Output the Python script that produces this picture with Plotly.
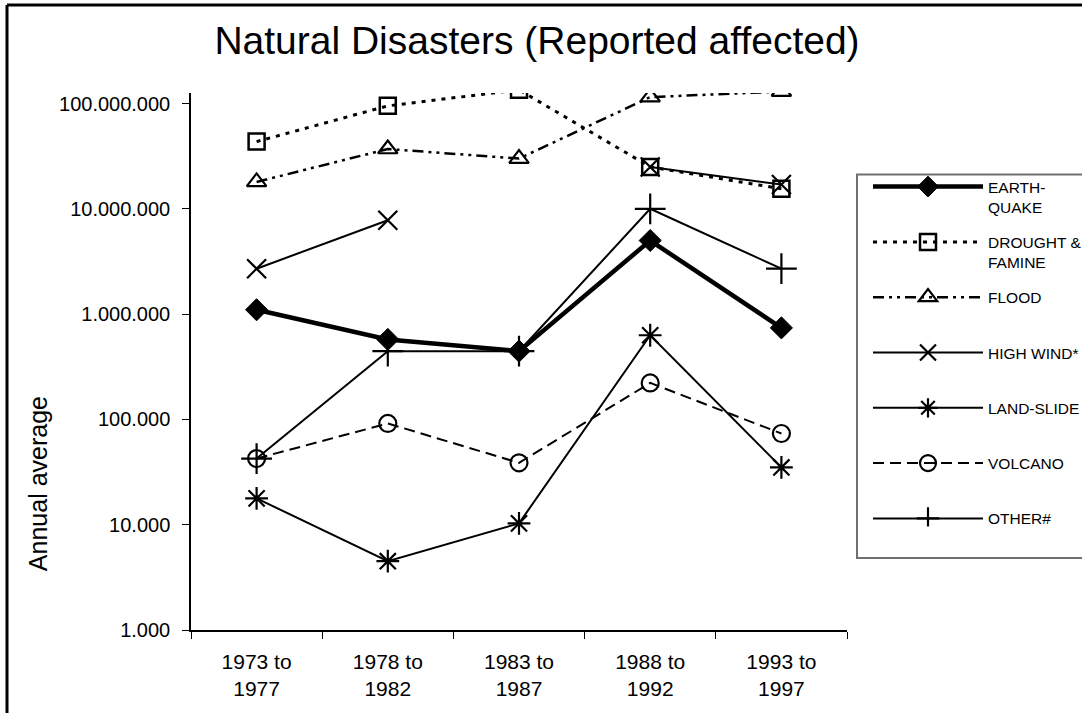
import plotly.graph_objects as go

# Five-year periods on the category axis
periods = ["1973 to<br>1977", "1978 to<br>1982", "1983 to<br>1987",
           "1988 to<br>1992", "1993 to<br>1997"]

# Annual average of people reported affected, per disaster type
earthquake = [1_100_000, 575_000, 445_000, 5_000_000, 740_000]
drought_famine = [43_500_000, 95_000_000, 135_000_000, 25_000_000, 15_500_000]
flood = [18_000_000, 37_000_000, 30_000_000, 115_000_000, 130_000_000]
high_wind = [2_700_000, 7_800_000, None, 25_000_000, 17_000_000]
land_slide = [17_800, 4_500, 10_300, 630_000, 35_000]
volcano = [42_500, 91_500, 38_700, 222_000, 73_500]
other = [42_500, 445_000, 445_000, 10_000_000, 2_700_000]

y_tick_values = [1e3, 1e4, 1e5, 1e6, 1e7, 1e8]
y_tick_labels = ["1.000", "10.000", "100.000", "1.000.000", "10.000.000", "100.000.000"]

FONT = "Liberation Sans, Arial, sans-serif"
W, H = 1082, 713
L, R, T, B = 191, 235, 92.5, 83          # plot area margins (px)
PW, PH = W - L - R, H - T - B


def px_x(x):
    """Page pixel column -> paper x."""
    return (x - L) / PW


def px_y(y):
    """Page pixel row -> paper y."""
    return (H - B - y) / PH


series = [
    dict(name="EARTH-<br>QUAKE", y=earthquake, line=dict(width=4.5, dash="solid"),
         marker=dict(symbol="diamond", size=17, color="black",
                     line=dict(width=1, color="black"))),
    dict(name="DROUGHT &<br>FAMINE", y=drought_famine, line=dict(width=3, dash="4px,6px"),
         marker=dict(symbol="square-open", size=16, color="black",
                     line=dict(width=2.5, color="black"))),
    dict(name="FLOOD<br> ", y=flood, line=dict(width=2.5, dash="11px,5px,3px,5px,3px,5px"),
         marker=dict(symbol="triangle-up-open", size=17, color="black",
                     line=dict(width=2.2, color="black"))),
    dict(name="HIGH WIND*<br> ", y=high_wind, line=dict(width=2, dash="solid"),
         marker=dict(symbol="x-thin-open", size=19, color="black",
                     line=dict(width=2.2, color="black"))),
    dict(name="LAND-SLIDE<br> ", y=land_slide, line=dict(width=2, dash="solid"),
         marker=dict(symbol="asterisk-open", size=19, color="black",
                     line=dict(width=2.2, color="black"))),
    dict(name="VOLCANO<br> ", y=volcano, line=dict(width=2, dash="11px,6px"),
         marker=dict(symbol="circle-open", size=17, color="black",
                     line=dict(width=2.2, color="black"))),
    dict(name="OTHER#<br> ", y=other, line=dict(width=2, dash="solid"),
         marker=dict(symbol="cross-thin-open", size=22, color="black",
                     line=dict(width=2.2, color="black"))),
]

fig = go.Figure()
for i, s in enumerate(series):
    fig.add_trace(go.Scatter(
        x=periods, y=s["y"], name=s["name"], mode="lines+markers",
        line=dict(color="black", **s["line"]), marker=s["marker"],
        connectgaps=False, legendgroup=f"g{i}",
    ))

shapes = []
# horizontal gridlines at each decade (log10 positions on the log axis)
for d in [4, 5, 6, 7]:
    shapes.append(dict(type="line", xref="x", yref="y", x0=-0.5, x1=4.5, y0=d, y1=d,
                       line=dict(color="black", width=1.2), layer="below"))
# vertical gridlines at category boundaries, stopping at the top of the value range
for b in [0.5, 1.5, 2.5, 3.5]:
    shapes.append(dict(type="line", xref="x", yref="y", x0=b, x1=b, y0=3, y1=8,
                       line=dict(color="#808080", width=1.2), layer="below"))
# top and right frame of the plot area
shapes.append(dict(type="line", xref="x", yref="y", x0=-0.5, x1=4.5, y0=8, y1=8,
                   line=dict(color="#8c8c8c", width=2.5), layer="below"))
shapes.append(dict(type="line", xref="x", yref="y", x0=4.5, x1=4.5, y0=3, y1=8,
                   line=dict(color="#8c8c8c", width=2.5), layer="below"))
# legend frame
shapes.append(dict(type="rect", xref="paper", yref="paper",
                   x0=px_x(857), x1=px_x(1120), y0=px_y(558), y1=px_y(174),
                   line=dict(color="#707070", width=2), fillcolor="white", layer="below"))
# outer chart border (top and left)
shapes.append(dict(type="line", xref="paper", yref="paper", x0=px_x(7), x1=px_x(1100),
                   y0=px_y(4.5), y1=px_y(4.5), line=dict(color="black", width=3)))
shapes.append(dict(type="line", xref="paper", yref="paper", x0=px_x(7), x1=px_x(7),
                   y0=px_y(4.5), y1=px_y(730), line=dict(color="black", width=3)))

fig.update_layout(
    width=W, height=H, autosize=False,
    margin=dict(l=L, r=R, t=T, b=B, pad=0),
    paper_bgcolor="white", plot_bgcolor="white",
    font=dict(family=FONT, color="black", size=21),
    title=dict(text="Natural Disasters (Reported affected)", x=537 / W, xanchor="center",
               y=1 - 40 / H, yanchor="middle", yref="container",
               font=dict(size=39, family=FONT, color="black")),
    xaxis=dict(type="category", range=[-0.5, 4.5], tickson="boundaries",
               ticks="outside", ticklen=7, tickwidth=1.2, tickcolor="black",
               showgrid=False, showline=True, linecolor="black", linewidth=1.5,
               tickfont=dict(size=21), zeroline=False, ticklabelstandoff=12),
    yaxis=dict(type="log", range=[3, 8.1], tickvals=y_tick_values, ticktext=y_tick_labels,
               ticks="outside", ticklen=7, tickwidth=1.2, tickcolor="black",
               showgrid=False, showline=True, linecolor="black", linewidth=1.5,
               tickfont=dict(size=20), zeroline=False, ticklabelstandoff=8),
    shapes=shapes,
    showlegend=True,
    legend=dict(xref="container", yref="container",
                x=868 / W, y=1 - 170 / H, xanchor="left", yanchor="top",
                borderwidth=0, bgcolor="rgba(0,0,0,0)",
                font=dict(size=15.5, family=FONT), valign="top",
                itemwidth=110, tracegroupgap=12, traceorder="grouped",
                itemclick=False),
    annotations=[dict(text="Annual average", textangle=-90, xref="paper", yref="paper",
                      x=px_x(38), y=px_y(484), showarrow=False,
                      xanchor="center", yanchor="middle",
                      font=dict(size=25, family=FONT, color="black"))],
)

fig.write_html("out.html")
